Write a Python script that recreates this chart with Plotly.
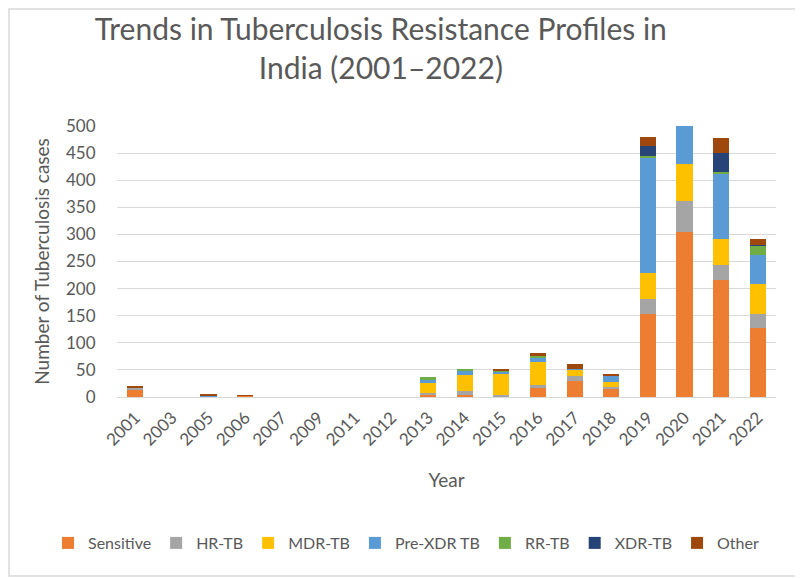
import plotly.graph_objects as go

years = ["2001", "2003", "2005", "2006", "2007", "2009", "2011", "2012", "2013",
         "2014", "2015", "2016", "2017", "2018", "2019", "2020", "2021", "2022"]

sensitive = [14, 0, 0, 2, 0, 0, 0, 0, 4, 3, 1, 16, 30, 16, 153, 305, 215, 127]
hr_tb = [3, 0, 0, 0, 0, 0, 0, 0, 4, 8, 2, 6, 8, 3, 28, 56, 29, 27]
mdr_tb = [0, 0, 0, 0, 0, 0, 0, 0, 18, 30, 39, 42, 12, 9, 48, 68, 47, 55]
pre_xdr_tb = [0, 0, 3, 0, 0, 0, 0, 0, 6, 8, 5, 8, 2, 11, 213, 75, 122, 53]
rr_tb = [0, 0, 0, 0, 0, 0, 0, 0, 4, 2, 1, 4, 0, 0, 3, 0, 2, 17]
xdr_tb = [0, 0, 0, 0, 0, 0, 0, 0, 0, 0, 0, 0, 0, 0, 19, 0, 35, 2]
other = [4, 0, 2, 1, 0, 0, 0, 0, 0, 0, 2, 6, 9, 3, 16, 0, 28, 10]

series = [
    ("Sensitive", sensitive, "#ED7D31"),
    ("HR-TB", hr_tb, "#A5A5A5"),
    ("MDR-TB", mdr_tb, "#FFC000"),
    ("Pre-XDR TB", pre_xdr_tb, "#5B9BD5"),
    ("RR-TB", rr_tb, "#70AD47"),
    ("XDR-TB", xdr_tb, "#264478"),
    ("Other", other, "#9E480E"),
]

fig = go.Figure()
for name, vals, color in series:
    fig.add_trace(go.Bar(x=years, y=vals, name=name, marker_color=color,
                         marker_line_width=0))

# page has an 8px body margin, so the figure is 8px smaller on each axis
W, H = 795, 570
L, R, T, B = 109, 27, 118, 181
pw, ph = W - L - R, H - T - B

grey = "#595959"
fig.update_layout(
    barmode="stack",
    bargap=0.56,
    width=W,
    height=H,
    margin=dict(l=L, r=R, t=T, b=B, autoexpand=False),
    paper_bgcolor="white",
    plot_bgcolor="white",
    font=dict(family="Lato", color=grey, size=17),
    title=dict(
        text="Trends in Tuberculosis Resistance Profiles in<br>India (2001–2022)",
        x=0.469, xanchor="center", y=0.944, yanchor="middle",
        font=dict(size=30, color=grey, family="Lato"),
    ),
    xaxis=dict(
        type="category",
        tickangle=-45,
        automargin=False,
        tickfont=dict(size=17, color=grey),
        title=dict(text="Year", font=dict(size=19, color=grey), standoff=25),
        showline=True, linecolor="#d9d9d9", linewidth=1,
        ticks="outside", ticklen=3, tickcolor="white",
    ),
    yaxis=dict(
        range=[0, 500],
        dtick=50,
        automargin=False,
        tickfont=dict(size=17, color=grey),
        title=dict(text="Number of Tuberculosis cases", font=dict(size=19, color=grey), standoff=11),
        showgrid=True, gridcolor="#d9d9d9", gridwidth=1,
        zeroline=False,
        ticks="outside", ticklen=17, tickcolor="white",
    ),
    legend=dict(
        orientation="h",
        x=(40 - L) / pw, xanchor="left",
        y=-(535 - (T + ph)) / ph, yanchor="middle",
        font=dict(size=16, color=grey),
        itemwidth=30,
        traceorder="normal",
    ),
    shapes=[dict(type="rect", xref="paper", yref="paper",
                 x0=(1 - L) / pw, x1=(W - 2 - L) / pw,
                 y0=(T + ph - (H - 2)) / ph, y1=(T + ph - 1) / ph,
                 line=dict(color="#d9d9d9", width=1.5))],
)

fig.write_html("out.html")
